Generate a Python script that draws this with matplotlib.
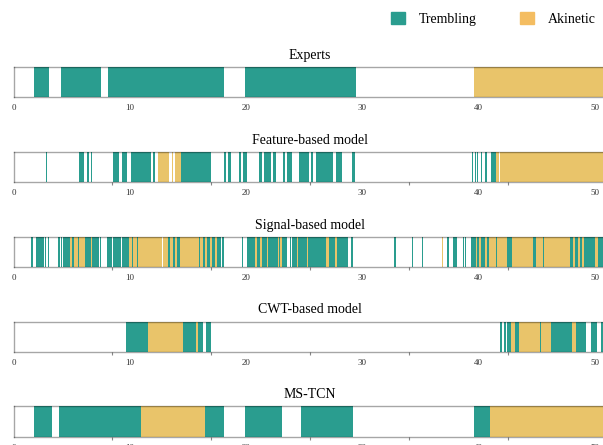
import matplotlib
matplotlib.use("Agg")
import matplotlib.pyplot as plt
from matplotlib.patches import Patch

plt.rcParams["font.family"] = ["Liberation Serif", "DejaVu Serif"]

TREMBLING = "#2a9d8f"
AKINETIC = "#e9c46a"
LEGEND_AKINETIC = "#f4bd61"

legend_labels = ["Trembling", "Akinetic"]
panel_titles = ["Experts", "Feature-based model", "Signal-based model", "CWT-based model", "MS-TCN"]
tick_values = [0, 10, 20, 30, 40, 50]
x_max = 51

# segments in seconds, (start, end)
experts_trembling = [(1.75, 3.04), (4.04, 7.51), (8.09, 18.1), (19.88, 29.43)]
experts_akinetic = [(39.59, 51)]

feature_trembling = [
    (2.8, 2.89), (5.58, 6.03), (6.27, 6.44), (6.63, 6.76), (8.55, 9.08), (9.28, 9.75),
    (10.08, 11.8), (11.99, 12.19), (14.38, 16.96), (18.08, 18.29), (18.42, 18.68),
    (19.41, 19.6), (19.73, 20.08), (21.07, 21.33), (21.5, 22.16), (22.32, 22.57),
    (22.72, 22.76), (23.15, 23.31), (23.48, 23.91), (24.57, 25.4), (25.57, 25.8),
    (26.03, 27.48), (27.78, 28.28), (29.11, 29.34), (39.47, 39.5), (39.73, 39.76),
    (39.87, 40.0), (40.2, 40.33), (40.59, 40.73), (41.12, 41.52),
]
feature_akinetic = [(12.46, 13.38), (13.65, 13.7), (13.88, 14.38), (41.52, 41.78), (41.85, 51)]

signal_trembling = [
    (1.53, 1.62), (1.89, 2.61), (2.7, 2.75), (2.98, 3.03), (3.81, 3.98), (4.1, 4.15),
    (4.22, 4.85), (5.02, 5.19), (5.51, 5.59), (6.14, 7.3), (7.45, 7.5), (8.0, 8.43),
    (8.57, 9.21), (9.29, 9.95), (10.16, 10.29), (10.59, 10.72), (13.3, 13.45),
    (13.68, 13.88), (14.03, 14.31), (15.95, 16.06), (16.27, 16.46), (16.66, 16.89),
    (17.04, 17.32), (17.47, 17.81), (17.9, 18.1), (19.67, 19.7), (19.82, 19.85),
    (20.05, 20.77), (20.91, 21.2), (21.34, 21.77), (21.91, 22.92), (23.06, 23.55),
    (23.69, 23.72), (23.82, 23.85), (23.92, 24.35), (24.49, 25.22), (25.35, 26.88),
    (27.16, 27.65), (27.85, 28.8), (29.0, 29.17), (30.23, 30.27), (32.0, 32.04),
    (32.75, 32.87), (34.3, 34.36), (35.14, 35.25), (37.18, 37.21), (37.32, 37.44),
    (37.83, 38.18), (38.69, 38.75), (38.82, 38.92), (38.98, 39.04), (39.33, 39.78),
    (39.9, 40.02), (40.19, 40.59), (40.76, 40.93), (41.5, 41.62), (42.48, 42.86),
    (44.72, 44.95), (45.52, 45.66), (47.87, 48.16), (48.3, 48.54), (48.73, 48.88),
    (49.08, 50.03), (50.31, 51),
]
signal_akinetic = [
    (4.85, 5.02), (5.19, 5.51), (5.59, 6.14), (6.65, 6.7), (6.9, 6.95), (9.95, 10.16),
    (10.29, 10.59), (10.72, 12.74), (12.85, 13.3), (13.45, 13.68), (13.88, 14.03),
    (14.31, 15.95), (16.06, 16.27), (16.46, 16.66), (16.89, 17.04), (17.32, 17.47),
    (20.77, 20.91), (21.2, 21.34), (21.77, 21.91), (22.2, 22.24), (22.49, 22.53),
    (22.77, 22.81), (22.92, 23.06), (24.35, 24.49), (25.22, 25.35), (25.67, 25.71),
    (26.19, 26.23), (26.53, 26.57), (26.88, 27.16), (27.65, 27.85), (36.88, 36.94),
    (39.78, 39.9), (40.02, 40.19), (40.59, 40.76), (40.93, 41.5), (41.62, 42.48),
    (42.86, 44.72), (44.95, 45.52), (45.66, 47.87), (48.16, 48.3), (48.54, 48.73),
    (48.88, 49.08), (49.3, 49.34), (49.6, 49.64), (50.03, 50.31),
]

cwt_trembling = [
    (9.68, 11.6), (14.61, 15.67), (15.9, 16.29), (16.55, 16.96), (41.85, 42.02),
    (42.2, 42.37), (42.45, 42.5), (42.58, 42.84), (43.18, 43.49), (45.26, 45.36),
    (46.24, 48.05), (48.37, 49.29), (49.68, 50.2), (50.52, 51),
]
cwt_akinetic = [(11.6, 14.61), (15.67, 15.9), (42.84, 43.18), (43.49, 45.26), (45.36, 46.24), (48.05, 48.37)]

mstcn_trembling = [(1.73, 3.32), (3.86, 10.96), (16.43, 18.06), (19.9, 23.09), (24.72, 29.24), (39.6, 40.96)]
mstcn_akinetic = [(10.96, 16.43), (40.96, 51)]

rows = [
    (experts_trembling, experts_akinetic),
    (feature_trembling, feature_akinetic),
    (signal_trembling, signal_akinetic),
    (cwt_trembling, cwt_akinetic),
    (mstcn_trembling, mstcn_akinetic),
]

W, H = 603, 445
fig = plt.figure(figsize=(W / 100, H / 100), dpi=100)

left_px, right_px = 13.7, 606.3
bar_h = 30.3
for i, (title, (trem, akin)) in enumerate(zip(panel_titles, rows)):
    top = 67 + i * 84.85
    ax = fig.add_axes([left_px / W, 1 - (top + bar_h) / H, (right_px - left_px) / W, bar_h / H])
    ax.broken_barh([(a, b - a) for a, b in trem], (0, 1), facecolor=TREMBLING, edgecolor="none")
    ax.broken_barh([(a, b - a) for a, b in akin], (0, 1), facecolor=AKINETIC, edgecolor="none")
    ax.set_xlim(0, x_max)
    ax.set_ylim(0, 1)
    ax.set_yticks([])
    ax.set_xticks(tick_values)
    ax.set_xticklabels([str(v) for v in tick_values])
    ax.tick_params(axis="x", which="major", length=0, labelsize=6.5, pad=5, labelcolor="#333333")
    if i > 0:
        ax.set_xticks([0, 8.5, 17, 25.5, 34, 42.5, 51], minor=True)
        ax.tick_params(axis="x", which="minor", length=2.5, width=0.8, color="#888888")
    for sp in ax.spines.values():
        sp.set_edgecolor((0, 0, 0, 0.35))
        sp.set_linewidth(1.0)
        sp.set_zorder(5)
    ax.set_title(title, fontsize=10, pad=5.8)

handles = [Patch(color=TREMBLING, label=legend_labels[0]),
           Patch(color=LEGEND_AKINETIC, label=legend_labels[1])]
fig.legend(handles=handles, ncol=2, loc="upper left", bbox_to_anchor=(391 / W, 1 - 12 / H),
           frameon=False, fontsize=10, handlelength=1.0, handleheight=1.0,
           handletextpad=1.0, columnspacing=3.1, borderpad=0, borderaxespad=0)

fig.savefig("out.png", dpi=100)
